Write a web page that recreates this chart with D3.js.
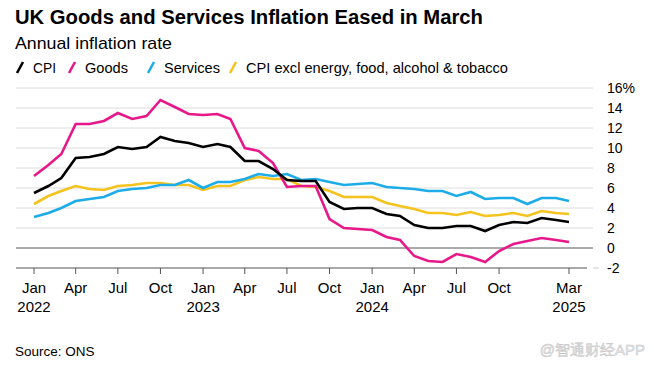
<!DOCTYPE html>
<meta charset="utf-8">
<style>
  body { margin: 0; background: #fff; }
  text { font-family: "Liberation Sans", Arial, sans-serif; fill: #000; }
  .grid line { stroke: #dcdcdc; stroke-width: 1; }
  .yaxis text { font-size: 14px; }
  .xaxis text { font-size: 15px; }
  .series { fill: none; stroke-width: 2.6; stroke-linejoin: miter; }
</style>
<svg width="654" height="367"></svg>
<script src="https://d3js.org/d3.v7.min.js"></script>
<script>
  // monthly, Jan 2022 .. Mar 2025
  var months = d3.timeMonth.range(new Date(2022, 0, 1), new Date(2025, 3, 1));

  var cpi = [5.5, 6.2, 7.0, 9.0, 9.1, 9.4, 10.1, 9.9, 10.1, 11.1, 10.7, 10.5,
    10.1, 10.4, 10.1, 8.7, 8.7, 7.9, 6.8, 6.7, 6.7, 4.6, 3.9, 4.0,
    4.0, 3.4, 3.2, 2.3, 2.0, 2.0, 2.2, 2.2, 1.7, 2.3, 2.6, 2.5,
    3.0, 2.8, 2.6];
  var goods = [7.2, 8.3, 9.4, 12.4, 12.4, 12.7, 13.5, 12.9, 13.2, 14.8, 14.1, 13.4,
    13.3, 13.4, 12.9, 10.0, 9.7, 8.5, 6.1, 6.2, 6.2, 2.9, 2.0, 1.9,
    1.8, 1.1, 0.8, -0.8, -1.3, -1.4, -0.6, -0.9, -1.4, -0.3, 0.4, 0.7,
    1.0, 0.8, 0.6];
  var services = [3.1, 3.5, 4.0, 4.7, 4.9, 5.1, 5.7, 5.9, 6.0, 6.3, 6.3, 6.8,
    6.0, 6.6, 6.6, 6.9, 7.4, 7.2, 7.4, 6.8, 6.9, 6.6, 6.3, 6.4,
    6.5, 6.1, 6.0, 5.9, 5.7, 5.7, 5.2, 5.6, 4.9, 5.0, 5.0, 4.4,
    5.0, 5.0, 4.7];
  var core = [4.4, 5.2, 5.7, 6.2, 5.9, 5.8, 6.2, 6.3, 6.5, 6.5, 6.3, 6.3,
    5.8, 6.2, 6.2, 6.8, 7.1, 6.9, 6.9, 6.2, 6.1, 5.7, 5.1, 5.1,
    5.1, 4.5, 4.2, 3.9, 3.5, 3.5, 3.3, 3.6, 3.2, 3.3, 3.5, 3.2,
    3.7, 3.5, 3.4];

  var seriesNames = ["CPI", "Goods", "Services", "CPI excl energy, food, alcohol & tobacco"];
  var seriesColors = ["#000000", "#e8178a", "#1dace8", "#f5c31d"];

  var xTicks = [[0, "Jan", "2022"], [3, "Apr", ""], [6, "Jul", ""], [9, "Oct", ""],
    [12, "Jan", "2023"], [15, "Apr", ""], [18, "Jul", ""], [21, "Oct", ""],
    [24, "Jan", "2024"], [27, "Apr", ""], [30, "Jul", ""], [33, "Oct", ""],
    [38, "Mar", "2025"]];
  var yTicks = [-2, 0, 2, 4, 6, 8, 10, 12, 14, 16];

  var svg = d3.select("svg");

  var x = d3.scaleTime()
    .domain([months[0], months[months.length - 1]])
    .range([34, 569]);
  var y = d3.scaleLinear()
    .domain([-2, 16])
    .range([268, 88]);

  // title block
  svg.append("text").attr("x", 15).attr("y", 24)
    .attr("font-size", "20px").attr("font-weight", "bold")
    .attr("textLength", 468).attr("lengthAdjust", "spacingAndGlyphs")
    .text("UK Goods and Services Inflation Eased in March");
  svg.append("text").attr("x", 15).attr("y", 49)
    .attr("font-size", "17px")
    .attr("textLength", 157).attr("lengthAdjust", "spacingAndGlyphs")
    .text("Annual inflation rate");

  // legend
  var legendX = [16, 68, 147, 229];
  var legendW = [23, 43, 56, 262];
  var leg = svg.append("g").selectAll("g")
    .data(seriesNames)
    .enter().append("g")
    .attr("transform", function(d, i) { return "translate(" + legendX[i] + ",0)"; });
  leg.append("line")
    .attr("x1", 1).attr("y1", 73).attr("x2", 7).attr("y2", 62)
    .attr("stroke", function(d, i) { return seriesColors[i]; })
    .attr("stroke-width", 2.6);
  leg.append("text")
    .attr("x", 17).attr("y", 73)
    .attr("font-size", "15px")
    .attr("textLength", function(d, i) { return legendW[i]; })
    .attr("lengthAdjust", "spacingAndGlyphs")
    .text(function(d) { return d; });

  // gridlines
  svg.append("g").attr("class", "grid")
    .selectAll("line")
    .data(yTicks.filter(function(d) { return d > 0; }))
    .enter().append("line")
    .attr("x1", 16).attr("x2", 593)
    .attr("y1", function(d) { return y(d); })
    .attr("y2", function(d) { return y(d); });

  svg.append("line")
    .attr("x1", 16).attr("x2", 593)
    .attr("y1", y(0)).attr("y2", y(0))
    .attr("stroke", "#555").attr("stroke-width", 1);
  svg.append("line")
    .attr("x1", 593).attr("x2", 599)
    .attr("y1", y(-2)).attr("y2", y(-2))
    .attr("stroke", "#ccc").attr("stroke-width", 1);

  // right axis
  var yAxis = svg.append("g").attr("class", "yaxis")
    .attr("transform", "translate(605,0)")
    .call(d3.axisRight(y).tickValues(yTicks).tickSize(0)
      .tickFormat(function(d) { return d === 16 ? "16%" : d; }));
  yAxis.select(".domain").remove();
  yAxis.selectAll("text").attr("x", 2);

  // bottom axis
  var xAxis = svg.append("g").attr("class", "xaxis")
    .attr("transform", "translate(0," + y(-2) + ")");
  xAxis.append("line")
    .attr("x1", 16).attr("x2", 587)
    .attr("stroke", "#555").attr("stroke-width", 1.2);
  var xt = xAxis.selectAll("g.tick")
    .data(xTicks)
    .enter().append("g").attr("class", "tick")
    .attr("transform", function(d) { return "translate(" + x(months[d[0]]) + ",0)"; });
  xt.append("line").attr("y1", 0).attr("y2", 6).attr("stroke", "#555");
  xt.append("text").attr("y", 25).attr("text-anchor", "middle").text(function(d) { return d[1]; });
  xt.append("text").attr("y", 44).attr("text-anchor", "middle").text(function(d) { return d[2]; });

  // lines
  var line = d3.line()
    .x(function(d, i) { return x(months[i]); })
    .y(function(d) { return y(d); });
  var drawOrder = [3, 2, 1, 0];
  var allSeries = [cpi, goods, services, core];
  drawOrder.forEach(function(k) {
    svg.append("path")
      .attr("class", "series")
      .attr("d", line(allSeries[k]))
      .attr("stroke", seriesColors[k]);
  });

  // footer
  svg.append("text").attr("x", 15).attr("y", 356)
    .attr("font-size", "13.5px").text("Source: ONS");
  svg.append("text").attr("x", 645).attr("y", 355)
    .attr("text-anchor", "end").attr("font-size", "15px")
    .style("fill", "#ececec").style("stroke", "#c4c4c4").style("stroke-width", 0.5)
    .text("@智通财经APP");
</script>
